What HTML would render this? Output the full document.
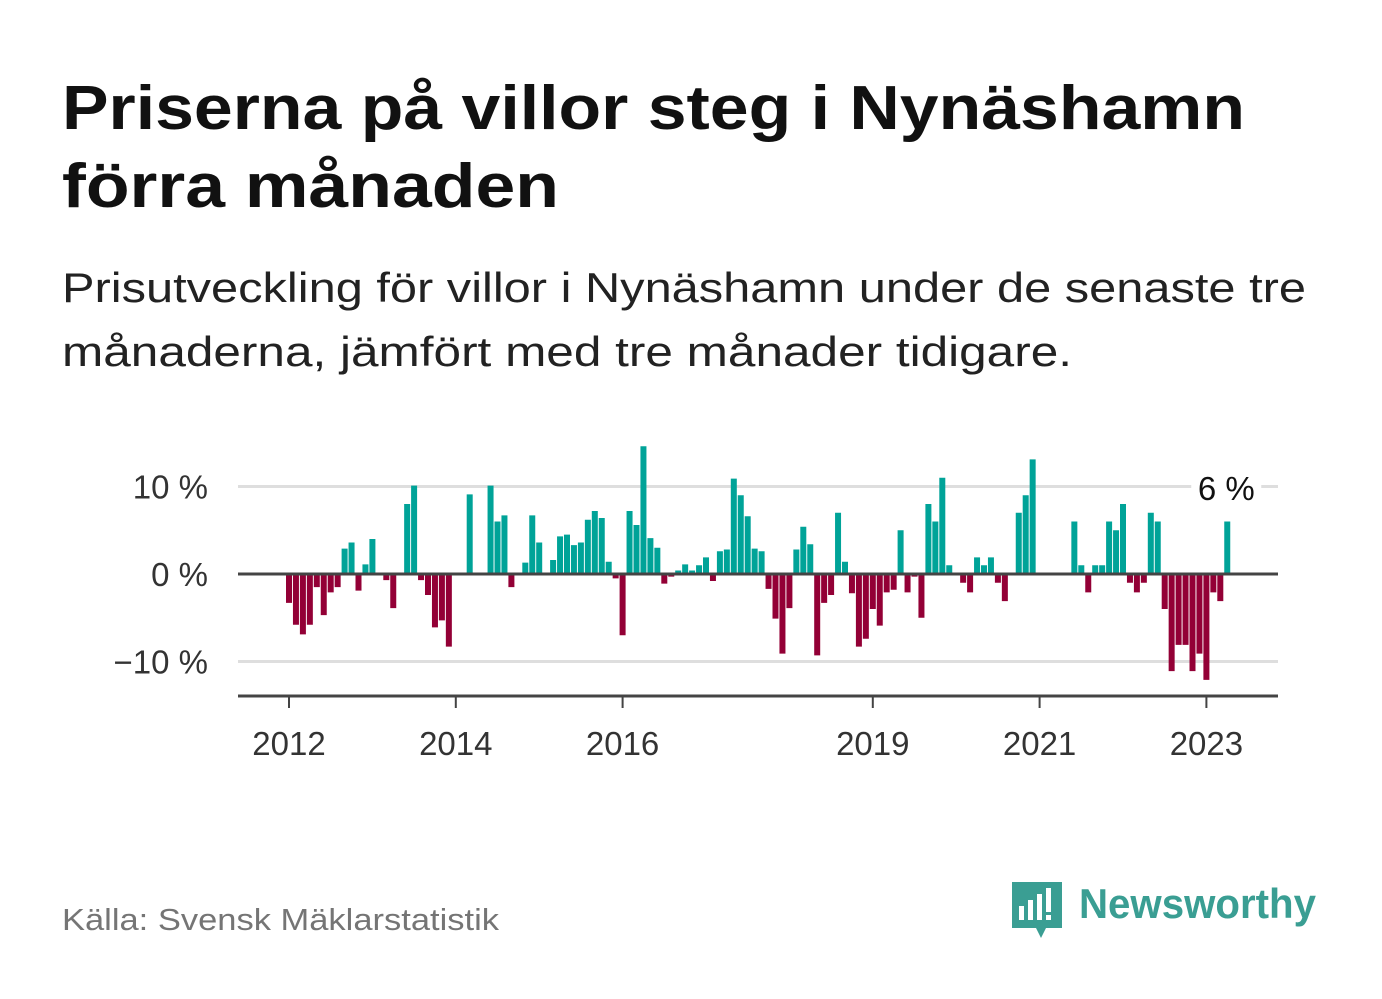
<!DOCTYPE html>
<html><head><meta charset="utf-8"><style>
html,body{margin:0;padding:0;background:#fff;}
svg{display:block;font-family:"Liberation Sans","DejaVu Sans",sans-serif;}
</style></head><body>
<svg id="chart" width="1382" height="999" viewBox="0 0 1382 999" xmlns="http://www.w3.org/2000/svg">
<text x="62" y="129" font-size="62" font-weight="bold" fill="#111" textLength="1183" lengthAdjust="spacingAndGlyphs">Priserna på villor steg i Nynäshamn</text>
<text x="62" y="207" font-size="62" font-weight="bold" fill="#111" textLength="497" lengthAdjust="spacingAndGlyphs">förra månaden</text>
<text x="62" y="302" font-size="42" fill="#222" textLength="1244" lengthAdjust="spacingAndGlyphs">Prisutveckling för villor i Nynäshamn under de senaste tre</text>
<text x="62" y="366" font-size="42" fill="#222" textLength="1010" lengthAdjust="spacingAndGlyphs">månaderna, jämfört med tre månader tidigare.</text>
<g id="plot"></g>
<text x="62" y="930" font-size="31" fill="#757575" textLength="437" lengthAdjust="spacingAndGlyphs">Källa: Svensk Mäklarstatistik</text>
<g>
<path d="M1012 882 h50 v46 h-16 l-5 10 l-5 -10 h-24 z" fill="#3a9e93"/>
<rect x="1019" y="906" width="5" height="14" fill="#fff"/>
<rect x="1028" y="900" width="5" height="20" fill="#fff"/>
<rect x="1037" y="894" width="5" height="26" fill="#fff"/>
<rect x="1046" y="888" width="5" height="24" fill="#fff"/>
<rect x="1046" y="915" width="5" height="5" fill="#fff"/>
<text x="1079" y="918" font-size="42" font-weight="bold" fill="#3a9e93" textLength="237" lengthAdjust="spacingAndGlyphs">Newsworthy</text>
</g>
</svg>
<script>
const values = [-3.3,-5.8,-6.9,-5.8,-1.5,-4.7,-2.1,-1.5,2.9,3.6,-1.9,1.1,4.0,0,-0.7,-3.9,0,8.0,10.1,-0.7,-2.4,-6.1,-5.3,-8.3,0,0,9.1,0,0,10.1,6.0,6.7,-1.5,0,1.3,6.7,3.6,0,1.6,4.3,4.5,3.3,3.6,6.2,7.2,6.4,1.4,-0.5,-7.0,7.2,5.6,14.6,4.1,3.0,-1.1,-0.3,0.4,1.1,0.4,1.0,1.9,-0.8,2.6,2.8,10.9,9.0,6.6,2.9,2.6,-1.7,-5.1,-9.1,-3.9,2.8,5.4,3.4,-9.3,-3.3,-2.4,7.0,1.4,-2.2,-8.3,-7.4,-4.0,-5.9,-2.1,-1.8,5.0,-2.1,-0.3,-5.0,8.0,6.0,11.0,1.0,0,-1.0,-2.1,1.9,1.0,1.9,-1.0,-3.1,0,7.0,9.0,13.1,0,0,0,0,0,6.0,1.0,-2.1,1.0,1.0,6.0,5.0,8.0,-1.0,-2.1,-1.0,7.0,6.0,-4.0,-11.1,-8.1,-8.1,-11.1,-9.1,-12.1,-2.1,-3.1,6.0];
const startYear = 2012;
const yTicks = [-10, 0, 10];
const yTickLabels = ["\u221210 %", "0 %", "10 %"];
const xTickYears = [2012, 2014, 2016, 2019, 2021, 2023];
const lastLabel = "6 %";

const NS = "http://www.w3.org/2000/svg";
const plot = document.getElementById("plot");
const X0 = 289, MONTH = 6.95;
const Y0 = 574, PER = 8.75;
const xScale = i => X0 + i * MONTH;
const yScale = v => Y0 - v * PER;
function mk(tag, attrs){const e=document.createElementNS(NS,tag);for(const k in attrs)e.setAttribute(k,attrs[k]);plot.appendChild(e);return e;}

yTicks.forEach((t,k)=>{
  if(t!==0){
    const g = mk("line",{x1:238,x2:1278,y1:yScale(t),y2:yScale(t),stroke:"#dedede","stroke-width":3});
    
    
  }
  const lb = mk("text",{x:208,y:yScale(t)+12,"font-size":33,fill:"#333","text-anchor":"end"});
  lb.textContent = yTickLabels[k];
  
  
});

values.forEach((v,i)=>{
  if(v===0) return;
  const x = xScale(i) - 3;
  const y = v>0 ? yScale(v) : Y0;
  const r = mk("rect",{x:x,y:y,width:6,height:Math.abs(v)*PER,fill:v>0?"#00a398":"#930036"});
  
  
});

const zl = mk("line",{x1:238,x2:1278,y1:Y0,y2:Y0,stroke:"#444","stroke-width":3});



const ax = mk("line",{x1:238,x2:1278,y1:696,y2:696,stroke:"#444","stroke-width":3});



xTickYears.forEach(yr=>{
  const x = xScale((yr-startYear)*12);
  const t = mk("line",{x1:x,x2:x,y1:696,y2:708,stroke:"#444","stroke-width":2});
  
  
  const lb = mk("text",{x:x,y:755,"font-size":33,fill:"#333","text-anchor":"middle"});
  lb.textContent = String(yr);
  
  
});

const lastX = xScale(values.length-1);
const bg = mk("rect",{x:lastX-36,y:468,width:70,height:40,fill:"#fff"});


const ll = mk("text",{x:lastX-1,y:500,"font-size":33,fill:"#111","text-anchor":"middle"});
ll.textContent = lastLabel;


</script>
</body></html>
